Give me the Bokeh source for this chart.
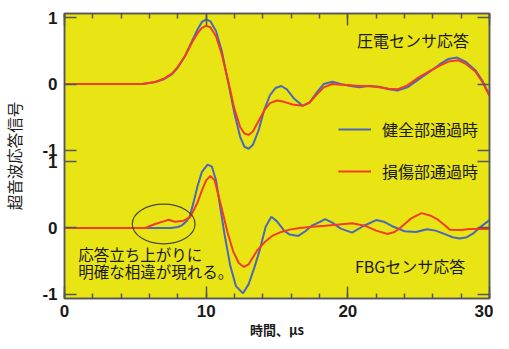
from bokeh.plotting import figure
from bokeh.models import (Range1d, LinearAxis, FixedTicker, SingleIntervalTicker,
                          Label, Legend, LegendItem)
from bokeh.embed import file_html
from bokeh.resources import INLINE

# ---------------- data ----------------
# upper panel: piezoelectric sensor response
piezo_healthy_t = [0, 5.5, 6.4, 7.0, 7.6, 8.0, 8.5, 9.0, 9.4, 9.7, 10.0, 10.3, 10.7, 11.1, 11.6,
                   12.0, 12.4, 12.7, 13.0, 13.3, 13.7, 14.1, 14.5, 14.9, 15.3, 15.7, 16.2, 16.8,
                   17.3, 17.8, 18.3, 18.9, 19.5, 20.2, 20.8, 21.5, 22.2, 22.9, 23.5, 24.2, 25.0,
                   25.8, 26.5, 27.1, 27.7, 28.3, 29.0, 29.5, 30.0]
piezo_healthy_v = [0, 0, 0.03, 0.07, 0.15, 0.25, 0.42, 0.65, 0.83, 0.94, 0.98, 0.95, 0.8, 0.5, -0.02,
                   -0.45, -0.8, -0.95, -0.98, -0.92, -0.7, -0.39, -0.17, -0.06, -0.03, -0.08, -0.22, -0.33,
                   -0.28, -0.13, 0.0, 0.035, 0.0, -0.03, -0.05, -0.03, -0.04, -0.08, -0.1, -0.05, 0.07,
                   0.19, 0.3, 0.38, 0.40, 0.34, 0.21, 0.05, -0.17]
piezo_damaged_t = [0, 5.5, 6.4, 7.0, 7.6, 8.0, 8.5, 9.0, 9.4, 9.7, 10.0, 10.3, 10.7, 11.1, 11.6,
                   12.0, 12.4, 12.7, 13.0, 13.3, 13.7, 14.1, 14.5, 15.0, 15.5, 16.1, 16.8, 17.3,
                   17.8, 18.3, 18.9, 19.5, 20.2, 20.8, 21.5, 22.2, 22.9, 23.5, 24.2, 25.0, 25.8,
                   26.5, 27.1, 27.8, 28.3, 29.0, 29.5, 30.0]
piezo_damaged_v = [0, 0, 0.03, 0.08, 0.16, 0.26, 0.42, 0.63, 0.77, 0.85, 0.88, 0.86, 0.72, 0.45, 0.0,
                   -0.38, -0.65, -0.75, -0.77, -0.72, -0.56, -0.4, -0.29, -0.25, -0.27, -0.31, -0.33, -0.28,
                   -0.16, -0.05, 0.0, -0.01, -0.02, -0.03, -0.03, -0.05, -0.07, -0.08, -0.02, 0.1, 0.2,
                   0.28, 0.34, 0.36, 0.31, 0.19, 0.03, -0.18]

# lower panel: FBG sensor response
fbg_healthy_t = [0, 7.5, 8.0, 8.25, 8.6, 8.85, 9.1, 9.4, 9.7, 10.1, 10.4, 10.7, 11.0, 11.3, 11.7,
                 12.1, 12.6, 13.0, 13.4, 13.8, 14.2, 14.6, 15.0, 15.5, 15.9, 16.5, 17.0, 17.5,
                 18.0, 18.4, 18.9, 19.5, 20.3, 21.1, 22.0, 22.6, 23.1, 24.0, 24.8, 25.6, 26.2,
                 26.8, 27.4, 27.9, 28.4, 28.8, 29.4, 30.0]
fbg_healthy_v = [0, 0, 0.015, 0.035, 0.1, 0.18, 0.38, 0.64, 0.85, 0.96, 0.93, 0.72, 0.3, -0.1, -0.57,
                 -0.88, -0.99, -0.85, -0.6, -0.32, 0.02, 0.17, 0.1, -0.04, -0.1, -0.12, -0.05, 0.04,
                 0.09, 0.135, 0.08, -0.01, -0.07, 0.03, 0.12, 0.09, 0.03, -0.05, -0.06, -0.02, -0.04,
                 -0.09, -0.14, -0.16, -0.14, -0.09, 0.02, 0.12]
fbg_damaged_t = [0, 5.7, 6.4, 7.0, 7.35, 7.8, 8.4, 8.85, 9.1, 9.4, 9.7, 10.0, 10.3, 10.6, 11.05,
                 11.5, 11.9, 12.3, 12.66, 13.0, 13.6, 14.2, 14.7, 15.3, 15.9, 16.6, 17.5, 18.4,
                 19.2, 20.3, 21.2, 22.0, 22.8, 23.3, 23.75, 24.5, 25.2, 25.8, 26.3, 26.8, 27.2,
                 28.0, 28.6, 30.0]
fbg_damaged_v = [0, 0, 0.06, 0.1, 0.125, 0.095, 0.11, 0.16, 0.26, 0.39, 0.57, 0.72, 0.79, 0.72, 0.34,
                 -0.06, -0.35, -0.53, -0.59, -0.55, -0.34, -0.2, -0.115, -0.06, -0.025, 0.0, 0.02, 0.035,
                 0.05, 0.07, 0.035, -0.04, -0.09, -0.06, 0.01, 0.15, 0.225, 0.19, 0.135, 0.05, -0.025,
                 -0.03, -0.015, -0.015]

panel_tick_values = [-1, 0, 1]
panel_tick_labels = ["-1", "0", "1"]
x_tick_values = [0, 10, 20, 30]
x_tick_labels = ["0", "10", "20", "30"]

legend_labels = ["健全部通過時", "損傷部通過時"]
upper_title = "圧電センサ応答"
lower_title = "FBGセンサ応答"
note_lines = ["応答立ち上がりに", "明確な相違が現れる。"]
x_label = "時間、μs"
y_label = "超音波応答信号"

# ---------------- styling ----------------
BG = "#e9e514"
BLUE = "#4a68b8"
RED = "#f03c28"
FRAME = "#555555"
JP = "Noto Sans CJK JP"
NUM = "Liberation Sans"
OFFSET = 2.18          # vertical shift of the upper panel on the shared y scale
LO, HI = -1.068, 3.248

p = figure(width=493, height=341, output_backend="svg", toolbar_location=None,
           x_range=Range1d(0, 30), y_range=Range1d(LO, HI),
           x_axis_type=None, y_axis_type=None,
           min_border_left=56, min_border_right=4, min_border_top=13, min_border_bottom=41)
p.extra_y_ranges = {"upper": Range1d(LO - OFFSET, HI - OFFSET)}
p.background_fill_color = BG
p.border_fill_color = "white"
p.outline_line_color = FRAME
p.outline_line_width = 1.5
p.xgrid.visible = False
p.ygrid.visible = False

# y ticks: lower panel at -1,0,1 ; upper panel shifted by OFFSET
yt = list(panel_tick_values) + [v + OFFSET for v in panel_tick_values]
ylab = {}
for v, s in zip(yt, panel_tick_labels + panel_tick_labels):
    ylab[v] = s


def style_axis(ax):
    ax.axis_line_color = FRAME
    ax.axis_line_width = 1.5
    ax.major_tick_line_color = FRAME
    ax.major_tick_line_width = 1.5
    ax.minor_tick_line_color = FRAME
    ax.minor_tick_line_width = 1.5
    ax.major_tick_in = 12
    ax.major_tick_out = 0
    ax.minor_tick_in = 5
    ax.minor_tick_out = 0


left = LinearAxis(ticker=FixedTicker(ticks=yt), major_label_overrides=ylab)
style_axis(left)
left.major_label_text_font = NUM
left.major_label_text_font_style = "bold"
left.major_label_text_font_size = "17px"
left.major_label_text_color = "#1a1a1a"
left.major_label_standoff = 7
left.axis_label = y_label
left.axis_label_text_font = JP
left.axis_label_text_font_style = "normal"
left.axis_label_text_font_size = "15.5px"
left.axis_label_text_color = "#1a1a1a"
left.axis_label_standoff = 14
p.add_layout(left, "left")

right = LinearAxis(ticker=FixedTicker(ticks=yt),
                   major_label_overrides={v: "" for v in yt})
style_axis(right)
right.major_label_standoff = 0
p.add_layout(right, "right")

bottom = LinearAxis(ticker=SingleIntervalTicker(interval=10, num_minor_ticks=5))
style_axis(bottom)
bottom.major_label_overrides = dict(zip(x_tick_values, x_tick_labels))
bottom.major_label_text_font = NUM
bottom.major_label_text_font_style = "bold"
bottom.major_label_text_font_size = "17px"
bottom.major_label_text_color = "#1a1a1a"
bottom.major_label_standoff = 6
bottom.axis_label = x_label
bottom.axis_label_text_font = JP
bottom.axis_label_text_font_style = "bold"
bottom.axis_label_text_font_size = "13px"
bottom.axis_label_text_color = "#1a1a1a"
bottom.axis_label_standoff = 0
p.add_layout(bottom, "below")

top = LinearAxis(ticker=SingleIntervalTicker(interval=10, num_minor_ticks=5),
                 major_label_overrides={v: "" for v in x_tick_values})
style_axis(top)
top.major_label_standoff = 0
top.major_label_text_font_size = "9px"
p.add_layout(top, "above")

# ---------------- curves ----------------
r_fbg_h = p.line(fbg_healthy_t, fbg_healthy_v, line_color=BLUE, line_width=2)
r_fbg_d = p.line(fbg_damaged_t, fbg_damaged_v, line_color=RED, line_width=2)
r_pz_h = p.line(piezo_healthy_t, piezo_healthy_v, line_color=BLUE, line_width=2, y_range_name="upper")
r_pz_d = p.line(piezo_damaged_t, piezo_damaged_v, line_color=RED, line_width=2, y_range_name="upper")

# ellipse around the onset difference
p.ellipse(x=[7.0], y=[0.06], width=[4.43], height=[0.6], fill_alpha=0,
          line_color="#4a4a2a", line_width=1.2)

# ---------------- texts ----------------
p.add_layout(Label(x=20.65, y=0.66, y_range_name="upper", text=upper_title,
                   text_font=JP, text_font_size="16px", text_color="#1a1a1a",
                   text_baseline="middle", text_align="left"))
p.add_layout(Label(x=20.5, y=-0.57, text=lower_title,
                   text_font=JP, text_font_size="16px", text_color="#1a1a1a",
                   text_baseline="middle", text_align="left"))
p.add_layout(Label(x=0.97, y=-0.39, text=note_lines[0],
                   text_font=JP, text_font_size="15.5px", text_color="#1a1a1a",
                   text_baseline="middle", text_align="left"))
p.add_layout(Label(x=0.97, y=-0.654, text=note_lines[1],
                   text_font=JP, text_font_size="15.5px", text_color="#1a1a1a",
                   text_baseline="middle", text_align="left"))

legend = Legend(items=[LegendItem(label=legend_labels[0], renderers=[r_pz_h]),
                       LegendItem(label=legend_labels[1], renderers=[r_pz_d])],
                location=(274, 115), padding=0, margin=0, spacing=18,
                glyph_width=33, glyph_height=20, label_height=20, label_standoff=11,
                label_text_font=JP, label_text_font_size="16px", label_text_color="#1a1a1a",
                background_fill_alpha=0, border_line_alpha=0)
p.add_layout(legend)

open("out.html", "w").write(file_html(p, INLINE))
